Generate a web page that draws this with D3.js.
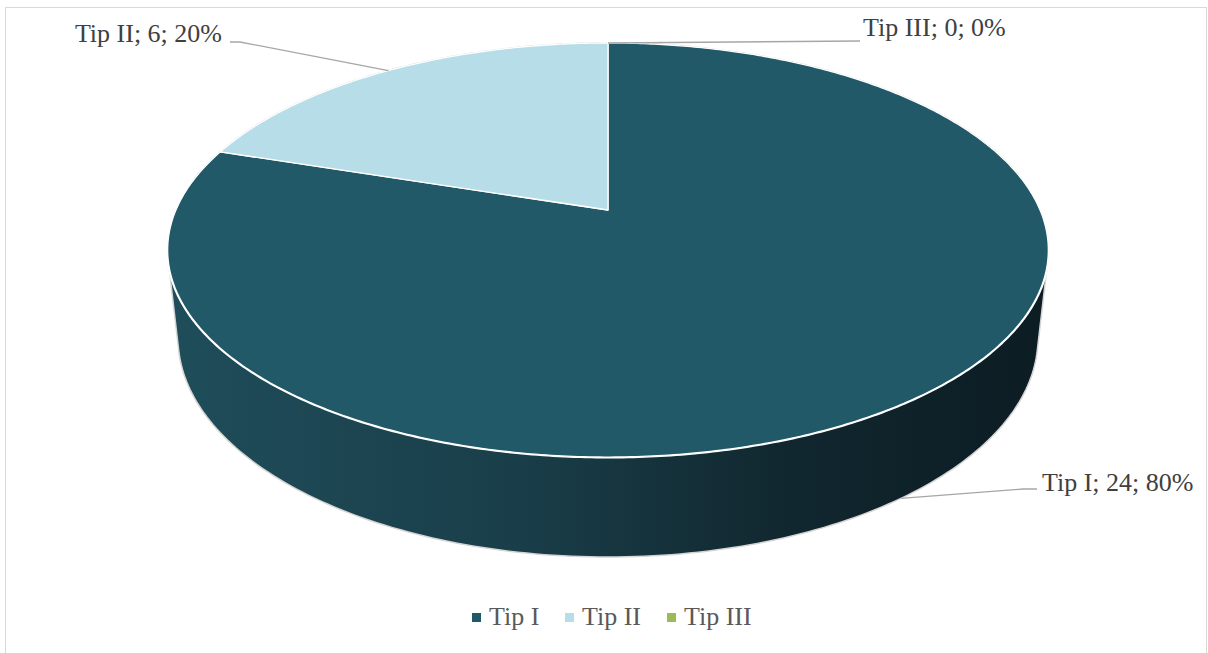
<!DOCTYPE html>
<html>
<head>
<meta charset="utf-8">
<script src="https://cdn.jsdelivr.net/npm/d3@7"></script>
<style>
  body { margin: 0; background: #fff; }
  svg { display: block; font-family: "Liberation Serif", "Times New Roman", serif; }
</style>
</head>
<body>
<div id="chart"></div>
<script>
// data
const categories = ['Tip I', 'Tip II', 'Tip III'];
const values = [24, 6, 0];
const colors = ['#215968', '#b7dde8', '#9bbb59'];

const W = 1208, H = 653;
const svg = d3.select('#chart').append('svg')
  .attr('width', W).attr('height', H);

// chart border
svg.append('rect')
  .attr('x', 5.5).attr('y', 7.5)
  .attr('width', 1201).attr('height', 700)
  .attr('fill', 'none').attr('stroke', '#d9d9d9');

// simple perspective camera for the 3d pie (unit radius circle, Z up)
const cam = { u0: 608, v0: 210, F: 1983, D: 4.59, sa: 0.4613, ca: 0.887 };
const depthH = 0.2316; // thickness of the pie
function proj(X, Y, Z) {
  const d = cam.D + Y * cam.ca - Z * cam.sa;
  return [cam.u0 + cam.F * X / d, cam.v0 - cam.F * (Y * cam.sa + Z * cam.ca) / d];
}
// angle a is clockwise from 12 o'clock (far side)
const pt = (a, Z) => proj(Math.sin(a), Math.cos(a), Z);

const pie = d3.pie().sort(null).value(d => d.value);
const arcs = pie(categories.map((c, i) => ({ name: c, value: values[i], color: colors[i] })));
const total = d3.sum(values);

const defs = svg.append('defs');
const grad = defs.append('linearGradient')
  .attr('id', 'side').attr('gradientUnits', 'userSpaceOnUse')
  .attr('x1', 168).attr('x2', 1049).attr('y1', 0).attr('y2', 0);
[[0, '#1f4d5a'], [0.4, '#193e49'], [0.7, '#11272f'], [1, '#0c1c23']].forEach(s =>
  grad.append('stop').attr('offset', s[0]).attr('stop-color', s[1]));

const N = 360;
const ring = d3.range(N).map(i => i / N * 2 * Math.PI);
const line = d3.line();

// body silhouette (hull of top and bottom circle)
const hull = d3.polygonHull(ring.map(a => pt(a, 0)).concat(ring.map(a => pt(a, -depthH))));
svg.append('path')
  .attr('d', line(hull) + 'Z')
  .attr('fill', 'url(#side)')
  .attr('stroke', '#d4d4d4').attr('stroke-width', 1.5);

// front rim of top face
svg.append('path')
  .attr('d', line(d3.range(Math.PI * 0.45, Math.PI * 1.55, 0.01).map(a => pt(a, 0))))
  .attr('fill', 'none').attr('stroke', '#ffffff').attr('stroke-width', 3);

// top slices
arcs.filter(d => d.value > 0).forEach(d => {
  const steps = Math.max(2, Math.ceil((d.endAngle - d.startAngle) / 0.01));
  const pts = [proj(0, 0, 0)];
  for (let i = 0; i <= steps; i++) pts.push(pt(d.startAngle + (d.endAngle - d.startAngle) * i / steps, 0));
  svg.append('path')
    .attr('d', line(pts) + 'Z')
    .attr('fill', d.data.color)
    .attr('stroke', '#ffffff').attr('stroke-width', 1.3).attr('stroke-linejoin', 'round');
});

// data labels with leader lines
const mid = d => (d.startAngle + d.endAngle) / 2;
const labelPos = {
  'Tip I':  { anchor: d => pt(mid(d), -depthH), knee: [1023, 489], end: [1037, 489], tx: 1042, ty: 491, align: 'start' },
  'Tip II': { anchor: d => pt(mid(d), 0), knee: [240, 42], end: [230, 42], tx: 222, ty: 42, align: 'end' },
  'Tip III': { anchor: d => pt(mid(d), 0), knee: [860, 41], end: [860, 41], tx: 863, ty: 36, align: 'start' }
};
arcs.forEach(d => {
  const L = labelPos[d.data.name];
  const a = L.anchor(d);
  svg.append('path')
    .attr('d', line([a, L.knee, L.end]))
    .attr('fill', 'none').attr('stroke', '#a6a6a6').attr('stroke-width', 1.3);
  const pct = Math.round(d.value / total * 100);
  svg.append('text')
    .attr('x', L.tx).attr('y', L.ty)
    .attr('text-anchor', L.align)
    .attr('font-size', 26).attr('fill', '#404040')
    .text(`${d.data.name}; ${d.value}; ${pct}%`);
});

// legend
const legendX = [472, 565, 667];
const leg = svg.append('g');
categories.forEach((c, i) => {
  leg.append('rect')
    .attr('x', legendX[i]).attr('y', 613)
    .attr('width', 9).attr('height', 9)
    .attr('fill', colors[i]);
  leg.append('text')
    .attr('x', legendX[i] + 17).attr('y', 625)
    .attr('font-size', 26).attr('fill', '#595959')
    .text(c);
});
</script>
</body>
</html>
